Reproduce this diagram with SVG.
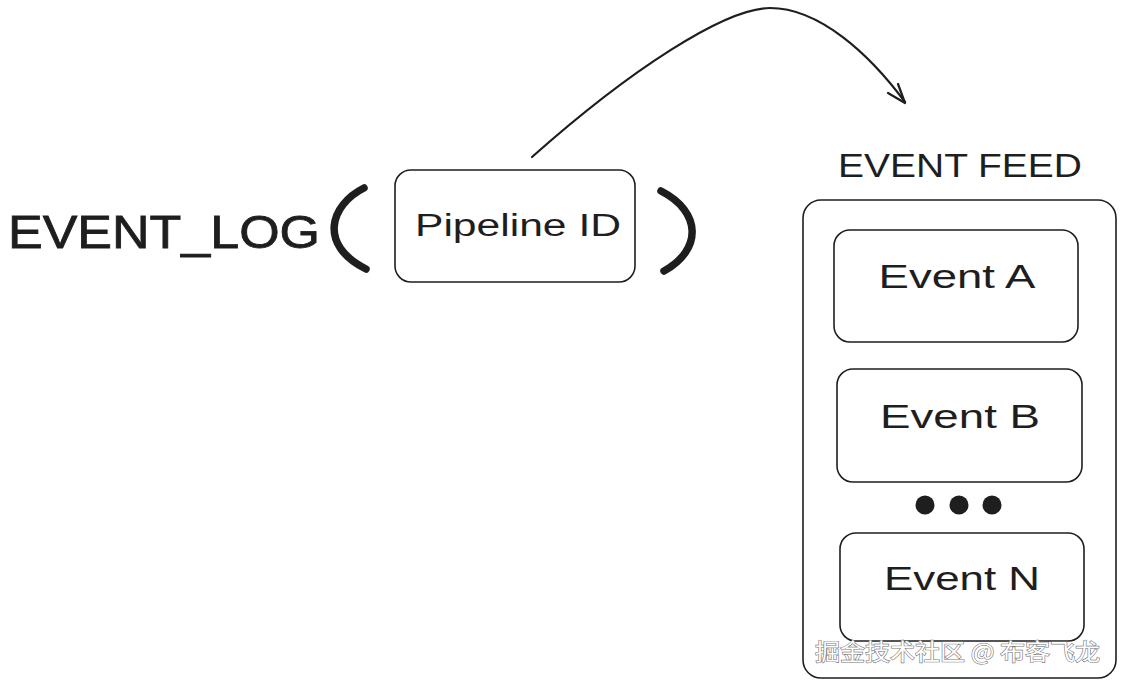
<svg xmlns="http://www.w3.org/2000/svg" width="1122" height="685" viewBox="0 0 1122 685">
<style>
.box{fill:#ffffff;stroke:#1e1e1e;stroke-width:1.6}
.lbl{font-family:"Liberation Sans",sans-serif;fill:#1e1e1e;text-anchor:middle}
.paren{fill:none;stroke:#1e1e1e;stroke-width:7.5;stroke-linecap:round}
.conn{fill:none;stroke:#1e1e1e;stroke-width:2.2;stroke-linecap:round;stroke-linejoin:round}
</style>
<rect width="1122" height="685" fill="#ffffff"/>
<g id="event-log-label">
<text x="8" y="248" font-family="Liberation Sans, sans-serif" font-size="46" fill="#1e1e1e" stroke="#1e1e1e" stroke-width="0.8" textLength="312" lengthAdjust="spacingAndGlyphs">EVENT_LOG</text>
<path class="paren" d="M364 188 C 330 205, 318 245, 366 269"/>
<path class="paren" d="M661 191 C 702 212, 702 250, 664 271"/>
</g>
<g id="pipeline-id">
<rect class="box" x="395" y="170" width="240" height="112" rx="16"/>
<text class="lbl" x="518" y="236" font-size="31" textLength="206" lengthAdjust="spacingAndGlyphs">Pipeline ID</text>
</g>
<g id="event-feed">
<text class="lbl" x="960" y="177" font-size="33" textLength="244" lengthAdjust="spacingAndGlyphs">EVENT FEED</text>
<rect class="box" x="803" y="200" width="313" height="478" rx="18"/>
</g>
<g id="event-a">
<rect class="box" x="834" y="230" width="244" height="112" rx="16"/>
<text class="lbl" x="957" y="288" font-size="33" textLength="157" lengthAdjust="spacingAndGlyphs">Event A</text>
</g>
<g id="event-b">
<rect class="box" x="837" y="369" width="245" height="113" rx="16"/>
<text class="lbl" x="960" y="428" font-size="33" textLength="160" lengthAdjust="spacingAndGlyphs">Event B</text>
</g>
<g id="ellipsis">
<circle cx="925" cy="505" r="9.5" fill="#1e1e1e"/>
<circle cx="959" cy="505" r="9.5" fill="#1e1e1e"/>
<circle cx="992" cy="505" r="9.5" fill="#1e1e1e"/>
</g>
<g id="event-n">
<rect class="box" x="840" y="533" width="244" height="108" rx="16"/>
<text class="lbl" x="962" y="590" font-size="33" textLength="156" lengthAdjust="spacingAndGlyphs">Event N</text>
</g>
<g id="connectors">
<path class="conn" d="M532 157 C 630 70, 725 8, 770 8 C 820 8, 870 55, 905 102"/>
<polyline class="conn" points="888,93 905,103 898,84"/>
</g>
<g id="watermark">
<text x="815" y="660" font-family="Noto Sans CJK SC, sans-serif" font-size="23" fill="#ffffff" stroke="#777777" stroke-width="1.2" paint-order="stroke" textLength="285" lengthAdjust="spacingAndGlyphs">掘金技术社区 @ 布客飞龙</text>
</g>
</svg>
